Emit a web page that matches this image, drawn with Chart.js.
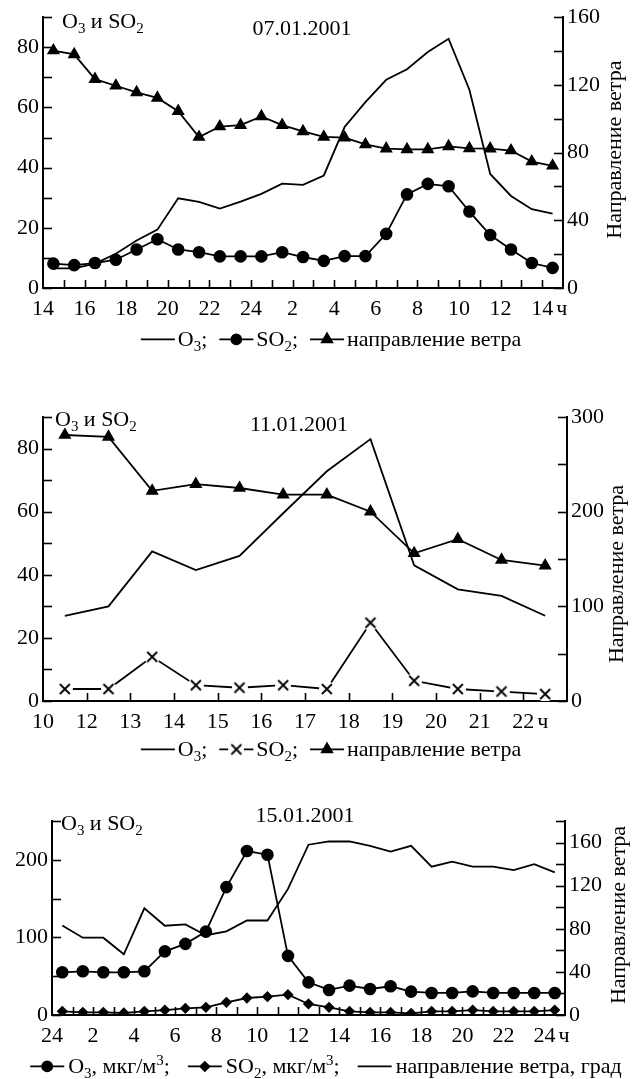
<!DOCTYPE html>
<html>
<head>
<meta charset="utf-8">
<script src="https://cdn.jsdelivr.net/npm/chart.js@4.4.0/dist/chart.umd.min.js"></script>
<style>
  body { margin: 0; background: #fff; }
  .wrap { position: relative; width: 634px; height: 1079px; overflow: hidden; }
  .wrap canvas { position: absolute; left: 0; top: 0; }
</style>
</head>
<body>
<div class="wrap">
  <canvas id="chart1" width="634" height="1079"></canvas>
  <canvas id="chart2" width="634" height="1079"></canvas>
  <canvas id="chart3" width="634" height="1079"></canvas>
</div>
<script>
// 07.01.2001 — время в часах от полуночи 07.01
const time1 = [14.5, 15.5, 16.5, 17.5, 18.5, 19.5, 20.5, 21.5, 22.5, 23.5, 24.5, 25.5, 26.5,
               27.5, 28.5, 29.5, 30.5, 31.5, 32.5, 33.5, 34.5, 35.5, 36.5, 37.5, 38.5];
const o3_1 = [6.5, 6.5, 8.1, 11.4, 15.8, 19.4, 29.8, 28.6, 26.4, 28.7, 31.3, 34.7, 34.3,
              37.4, 53.5, 61.8, 69.2, 72.7, 78.4, 82.8, 65.9, 37.9, 30.6, 26.2, 24.7];
const so2_1 = [8.1, 7.6, 8.3, 9.4, 12.8, 16.2, 12.8, 11.9, 10.5, 10.5, 10.5, 11.9, 10.3,
               9.0, 10.6, 10.6, 18.0, 31.1, 34.6, 33.8, 25.4, 17.6, 12.8, 8.3, 6.7];
const wind1 = [140.3, 138, 123.4, 119.5, 115.6, 112.3, 104.5, 89.2, 95.4, 96.2, 101.4, 96.2, 92.5,
               89.3, 88.8, 84.8, 82.3, 81.9, 81.9, 83.7, 82.5, 82.3, 81.2, 74.7, 72.2];

// 11.01.2001 — подписи делений оси времени и положения замеров между ними
const hourLabels2 = ['10', '12', '13', '14', '15', '16', '17', '18', '19', '20', '21', '22'];
const slot2 = [0.5, 1.5, 2.5, 3.5, 4.5, 5.5, 6.5, 7.5, 8.5, 9.5, 10.5, 11.5];
const o3_2 = [27, 30, 47.4, 41.5, 46, 59.5, 72.8, 83, 43, 35.4, 33.3, 27];
const so2_2 = [3.8, 3.8, 14, 5, 4.2, 5, 3.8, 24.8, 6.4, 3.8, 3, 2.2];
const wind2 = [281, 279, 222, 229, 225, 218, 218, 200, 156, 171, 149, 143];

// 15.01.2001
const time3 = [0.5, 1.5, 2.5, 3.5, 4.5, 5.5, 6.5, 7.5, 8.5, 9.5, 10.5, 11.5, 12.5,
               13.5, 14.5, 15.5, 16.5, 17.5, 18.5, 19.5, 20.5, 21.5, 22.5, 23.5, 24.5];
const o3_3 = [55, 56.3, 55, 55, 56.3, 82, 91.7, 107.5, 164.8, 211.3, 206.6, 76.2, 42.1,
              32.3, 37.8, 33.5, 37, 30.1, 28.4, 28.4, 30.5, 28.4, 28.4, 28.4, 28.4];
const so2_3 = [4.7, 3.4, 3.4, 2.6, 4.7, 6.4, 8.6, 9.9, 16.3, 21.9, 23.6, 26.2, 14.2,
               9.9, 4.7, 3.4, 3.4, 2.1, 4.7, 4.7, 6.4, 4.7, 4.7, 4.7, 6.4];
const wind3 = [83, 71.7, 71.7, 56.3, 99, 82.8, 84, 74, 77.6, 87.7, 87.7, 117, 158,
               161, 161, 157, 151.7, 157, 137.6, 142.2, 137.6, 137.6, 134.5, 140, 132.3];

const FAMILY = '"Liberation Serif", "Times New Roman", serif';
const font = (size) => `${size}px ${FAMILY}`;

// крестик на белом кружке: линия не доходит до маркера
function crossMarker(r, pad) {
    const c = document.createElement('canvas');
    const s = 2 * (r + pad);
    c.width = s;
    c.height = s;
    const g = c.getContext('2d');
    g.fillStyle = '#fff';
    g.beginPath();
    g.arc(s / 2, s / 2, r + pad, 0, Math.PI * 2);
    g.fill();
    g.strokeStyle = '#000';
    g.lineWidth = 1.8;
    g.beginPath();
    g.moveTo(s / 2 - r, s / 2 - r);
    g.lineTo(s / 2 + r, s / 2 + r);
    g.moveTo(s / 2 + r, s / 2 - r);
    g.lineTo(s / 2 - r, s / 2 + r);
    g.stroke();
    return c;
}
const CROSS = crossMarker(5, 3);

// текст с индексами: _3 — нижний, ^3 — верхний
function parseRich(s) {
    const out = [];
    let buf = '';
    for (let i = 0; i < s.length; i++) {
        const c = s[i];
        if ((c === '_' || c === '^') && i + 1 < s.length) {
            if (buf) out.push([buf, 0]);
            buf = '';
            out.push([s[i + 1], c === '_' ? 1 : -1]);
            i++;
        } else {
            buf += c;
        }
    }
    if (buf) out.push([buf, 0]);
    return out;
}

function richWidth(ctx, s, size) {
    let w = 0;
    parseRich(s).forEach(([t, k]) => {
        ctx.font = font(k ? size * 0.68 : size);
        w += ctx.measureText(t).width;
    });
    return w;
}

function drawRich(ctx, s, x, y, size) {
    let cx = x;
    ctx.textAlign = 'left';
    ctx.textBaseline = 'alphabetic';
    parseRich(s).forEach(([t, k]) => {
        ctx.font = font(k ? size * 0.68 : size);
        const dy = k === 1 ? size * 0.22 : k === -1 ? -size * 0.38 : 0;
        ctx.fillText(t, cx, y + dy);
        cx += ctx.measureText(t).width;
    });
    return cx - x;
}

// подписи, засечки внутрь и легенда
const decor = {
    id: 'decor',
    afterDraw(chart, args, o) {
        const { ctx, chartArea: a, scales } = chart;
        ctx.save();
        ctx.strokeStyle = '#000';
        ctx.fillStyle = '#000';
        ctx.lineWidth = 1.6;

        const tick = (x1, y1, x2, y2) => {
            ctx.beginPath();
            ctx.moveTo(x1, y1);
            ctx.lineTo(x2, y2);
            ctx.stroke();
        };
        const ys = scales.y, yr = scales.y1, xs = scales.x;
        for (let v = ys.min; v <= ys.max + 1e-6; v += o.leftStep) {
            const p = Math.round(ys.getPixelForValue(v)) + 0.5;
            tick(a.left, p, a.left + o.tickLen, p);
        }
        for (let v = yr.min; v <= yr.max + 1e-6; v += o.rightStep) {
            const p = Math.round(yr.getPixelForValue(v)) + 0.5;
            tick(a.right, p, a.right - o.tickLen, p);
        }
        for (let v = xs.min + 1; v < xs.max; v += 1) {
            const p = Math.round(xs.getPixelForValue(v)) + 0.5;
            tick(p, a.bottom, p, a.bottom - o.tickLen + 1);
        }

        // дата
        ctx.font = font(o.size);
        ctx.textAlign = 'center';
        ctx.textBaseline = 'alphabetic';
        ctx.fillText(o.title, o.titleX, o.titleY);

        // подпись левой оси
        drawRich(ctx, 'O_3 и SO_2', o.leftLabelX, o.leftLabelY, o.size);

        // подпись правой оси
        ctx.save();
        ctx.translate(o.rightTitleX, (a.top + a.bottom) / 2 + o.rightTitleShift);
        ctx.rotate(-Math.PI / 2);
        ctx.font = font(o.size);
        ctx.textAlign = 'center';
        ctx.textBaseline = 'middle';
        ctx.fillText('Направление ветра', 0, 0);
        ctx.restore();

        // единица времени после последней подписи
        ctx.font = font(o.size);
        ctx.textAlign = 'left';
        ctx.textBaseline = 'alphabetic';
        ctx.fillText('ч', xs.getPixelForValue(o.unitAt) + o.unitDx, a.bottom + o.unitDy);

        // легенда
        const L = o.legend;
        const seg = L.seg;
        let total = 0;
        L.items.forEach((it, i) => {
            total += seg + L.gap + richWidth(ctx, it.text, L.size) + (i < L.items.length - 1 ? L.space : 0);
        });
        let x = L.cx - total / 2;
        L.items.forEach((it) => {
            const ly = L.y - L.size * 0.3;
            ctx.lineWidth = 1.8;
            tick(x, ly, x + seg, ly);
            if (it.marker) {
                Chart.helpers.drawPoint(ctx, {
                    pointStyle: it.marker, radius: it.radius, rotation: 0, borderWidth: 1.8
                }, x + seg / 2, ly);
            }
            x += seg + L.gap;
            ctx.fillStyle = '#000';
            x += drawRich(ctx, it.text, x, L.y, L.size) + L.space;
        });
        ctx.restore();
    }
};

function series(xs, ys) {
    return xs.map((x, i) => ({ x: x, y: ys[i] }));
}

function lineSet(data, axis, style, radius) {
    return {
        data: data,
        yAxisID: axis,
        borderColor: '#000',
        backgroundColor: '#000',
        borderWidth: 1.8,
        pointStyle: style || 'circle',
        pointRadius: style ? radius : 0,
        pointBorderWidth: 1.6,
        pointBackgroundColor: '#000',
        pointBorderColor: '#000',
        tension: 0
    };
}

function makeChart(id, c) {
    const axisFont = { family: FAMILY, size: c.size };
    const grid = { display: true, drawOnChartArea: false, drawTicks: false };
    const border = { display: true, color: '#000', width: 2 };
    return new Chart(document.getElementById(id), {
        type: 'line',
        data: { datasets: c.datasets },
        options: {
            responsive: false,
            animation: false,
            events: [],
            layout: { padding: { top: c.top, bottom: 1079 - c.bottom - 34, left: 0, right: 0 } },
            plugins: { legend: { display: false }, tooltip: { enabled: false }, decor: c.decor },
            scales: {
                x: {
                    type: 'linear', z: 1,
                    min: c.xMin, max: c.xMax,
                    grid: grid, border: border,
                    ticks: {
                        stepSize: 1, autoSkip: false, maxRotation: 0, padding: 8,
                        color: '#000', font: axisFont, callback: c.xLabel
                    },
                    afterFit: (s) => { s.height = 34; }
                },
                y: {
                    position: 'left', z: 1,
                    min: 0, max: c.leftMax,
                    grid: grid, border: border,
                    ticks: {
                        stepSize: c.leftStep, autoSkip: false, padding: 4, color: '#000', font: axisFont,
                        callback: (v) => (v % c.leftLabelStep === 0 && v < c.leftMax ? v : '')
                    },
                    afterFit: (s) => { s.width = c.left; }
                },
                y1: {
                    position: 'right', z: 1,
                    min: 0, max: c.rightMax,
                    grid: grid, border: border,
                    ticks: {
                        stepSize: c.rightStep, autoSkip: false, padding: 4, color: '#000', font: axisFont,
                        callback: (v) => (v % c.rightLabelStep === 0 ? v : '')
                    },
                    afterFit: (s) => { s.width = 634 - c.right; }
                }
            }
        },
        plugins: [decor]
    });
}

const SIZE = 22;

makeChart('chart1', {
    size: SIZE, top: 14, bottom: 288, left: 43, right: 563,
    xMin: 14, xMax: 39,
    xLabel: (v) => (v % 2 === 0 && v < 39 ? String(v % 24 || 24) : ''),
    leftMax: 90, leftStep: 10, leftLabelStep: 20,
    rightMax: 160, rightStep: 20, rightLabelStep: 40,
    datasets: [
        lineSet(series(time1, o3_1), 'y'),
        lineSet(series(time1, so2_1), 'y', 'circle', 5.5),
        lineSet(series(time1, wind1), 'y1', 'triangle', 6)
    ],
    decor: {
        size: SIZE, tickLen: 9, leftStep: 10, rightStep: 20,
        title: '07.01.2001', titleX: 302, titleY: 35,
        leftLabelX: 62, leftLabelY: 28,
        rightTitleX: 615, rightTitleShift: -3,
        unitAt: 38, unitDx: 14, unitDy: 27,
        legend: {
            cx: 331, y: 346, size: SIZE, seg: 34, gap: 3, space: 12,
            items: [
                { text: 'O_3;' },
                { text: 'SO_2;', marker: 'circle', radius: 5 },
                { text: 'направление ветра', marker: 'triangle', radius: 6 }
            ]
        }
    }
});

makeChart('chart2', {
    size: SIZE, top: 417, bottom: 701, left: 43, right: 567,
    xMin: 0, xMax: 12,
    xLabel: (v) => (v < hourLabels2.length ? hourLabels2[v] : ''),
    leftMax: 90, leftStep: 10, leftLabelStep: 20,
    rightMax: 300, rightStep: 50, rightLabelStep: 100,
    datasets: [
        lineSet(series(slot2, o3_2), 'y'),
        lineSet(series(slot2, so2_2), 'y', CROSS, 8),
        lineSet(series(slot2, wind2), 'y1', 'triangle', 6)
    ],
    decor: {
        size: SIZE, tickLen: 9, leftStep: 10, rightStep: 50,
        title: '11.01.2001', titleX: 299, titleY: 431,
        leftLabelX: 55, leftLabelY: 426,
        rightTitleX: 617, rightTitleShift: 15,
        unitAt: 11, unitDx: 14, unitDy: 27,
        legend: {
            cx: 331, y: 756, size: SIZE, seg: 34, gap: 3, space: 12,
            items: [
                { text: 'O_3;' },
                { text: 'SO_2;', marker: CROSS, radius: 8 },
                { text: 'направление ветра', marker: 'triangle', radius: 6 }
            ]
        }
    }
});

makeChart('chart3', {
    size: SIZE, top: 821, bottom: 1015, left: 52, right: 565,
    xMin: 0, xMax: 25,
    xLabel: (v) => (v % 2 === 0 && v < 25 ? String(v % 24 || 24) : ''),
    leftMax: 250, leftStep: 50, leftLabelStep: 100,
    rightMax: 180, rightStep: 20, rightLabelStep: 40,
    datasets: [
        lineSet(series(time3, wind3), 'y1'),
        lineSet(series(time3, o3_3), 'y', 'circle', 5.5),
        lineSet(series(time3, so2_3), 'y', 'rectRot', 4.5)
    ],
    decor: {
        size: SIZE, tickLen: 9, leftStep: 50, rightStep: 20,
        title: '15.01.2001', titleX: 305, titleY: 822,
        leftLabelX: 61, leftLabelY: 830,
        rightTitleX: 619, rightTitleShift: -3,
        unitAt: 24, unitDx: 14, unitDy: 27,
        legend: {
            cx: 326, y: 1073, size: SIZE, seg: 34, gap: 4, space: 18,
            items: [
                { text: 'O_3, мкг/м^3;', marker: 'circle', radius: 5 },
                { text: 'SO_2, мкг/м^3;', marker: 'rectRot', radius: 4.5 },
                { text: 'направление ветра, град' }
            ]
        }
    }
});
</script>
</body>
</html>
